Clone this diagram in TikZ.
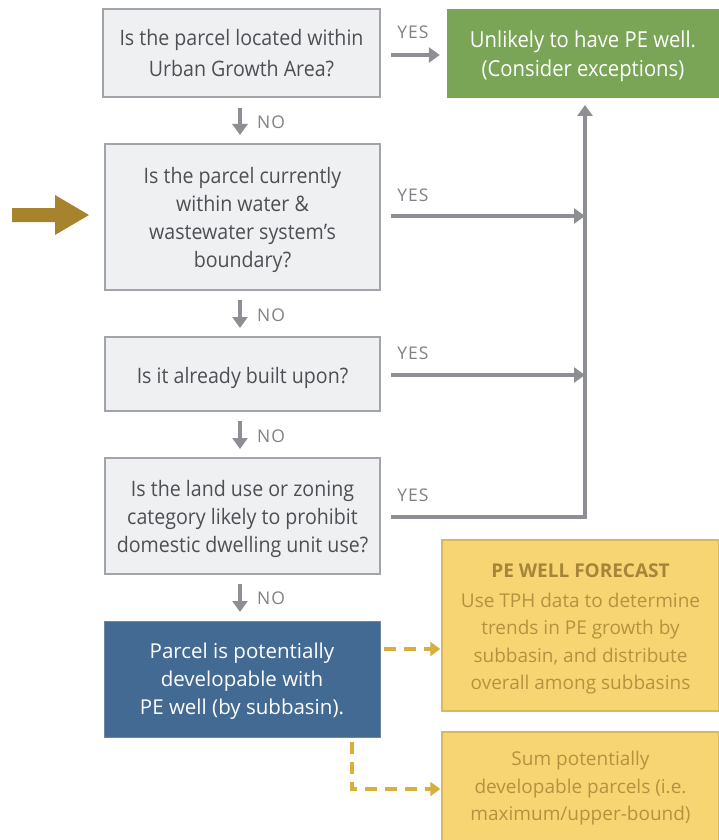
\documentclass[tikz,border=0pt]{standalone}
\usepackage{fontspec}
\setmainfont{Open Sans}
\newfontfamily\condfont[FakeStretch=0.92]{Open Sans}
\newfontfamily\lblfont[LetterSpace=6]{Open Sans}
\usetikzlibrary{arrows.meta}
\newcommand{\shtext}[2]{\raisebox{#1}[\height][\depth]{\begin{tabular}{@{}c@{}}#2\end{tabular}}}
\definecolor{qfill}{HTML}{EFF0F2}
\definecolor{qdraw}{HTML}{A3A4A9}
\definecolor{qtext}{HTML}{4E4F54}
\definecolor{garr}{HTML}{8E8F94}
\definecolor{lbltext}{HTML}{808186}
\definecolor{gfill}{HTML}{7AA556}
\definecolor{bfill}{HTML}{436A92}
\definecolor{yfill}{HTML}{F8D573}
\definecolor{ydraw}{HTML}{D9B85E}
\definecolor{ytext}{HTML}{B3933F}
\definecolor{ytitle}{HTML}{A5853A}
\definecolor{ydash}{HTML}{D9AE3E}
\definecolor{gold}{HTML}{A8832D}
\tikzset{
  qbox/.style={draw=qdraw, line width=1.3pt, fill=qfill, inner sep=0pt, text=qtext, align=center,
    font=\condfont\fontsize{21.3}{31}\selectfont},
  qtight/.style={qbox, font=\condfont\fontsize{21.3}{28}\selectfont},
  greenbox/.style={fill=gfill, inner sep=0pt, text=white, align=center,
    font=\condfont\fontsize{22}{29.5}\selectfont},
  bluebox/.style={fill=bfill, draw=bfill!80!white, line width=0.8pt, inner sep=0pt, text=white, align=center,
    font=\fontsize{20.5}{28}\selectfont},
  ybox/.style={fill=yfill, draw=ydraw, line width=1.5pt, inner sep=0pt, text=ytext, align=center,
    font=\fontsize{19}{27.5}\selectfont},
  conn/.style={draw=garr, line width=3.5pt, -{Triangle[length=11pt,width=15pt]}},
  dconn/.style={draw=ydash, line width=3.5pt, dash pattern=on 12pt off 8pt, -{Triangle[length=10pt,width=14pt]}},
  lbl/.style={text=lbltext, font=\lblfont\fontsize{17.5}{20}\selectfont, inner sep=0pt},
}
\begin{document}
\begin{tikzpicture}[x=1pt,y=-1pt]
\useasboundingbox (0,0) rectangle (719,840);
\begin{scope}
\clip (0,0) rectangle (719,840);
% boxes
\node[qbox, minimum width=277pt, minimum height=88pt] (q1) at (241.5,53) {Is the parcel located within\\Urban Growth Area?};
\node[greenbox, minimum width=272pt, minimum height=89pt] (g) at (583,53.5) {\shtext{-2.5pt}{Unlikely to have PE well.\\(Consider exceptions)}};
\node[qtight, minimum width=275pt, minimum height=146pt] (q2) at (242.5,217) {\shtext{-2.5pt}{Is the parcel currently\\within water \&\\wastewater system’s\\boundary?}};
\node[qbox, minimum width=275pt, minimum height=74pt] (q3) at (242.5,374) {\shtext{-3pt}{Is it already built upon?}};
\node[qtight, minimum width=275pt, minimum height=116pt] (q4) at (242.5,516) {\shtext{-2.5pt}{Is the land use or zoning\\category likely to prohibit\\domestic dwelling unit use?}};
\node[bluebox, minimum width=276pt, minimum height=116pt] (b) at (242,679) {\shtext{-2pt}{Parcel is potentially\\developable with\\PE well (by subbasin).}};
\node[ybox, minimum width=277pt, minimum height=171pt] (y1) at (580.5,625.5) {\shtext{-2.5pt}{{\bfseries\color{ytitle}PE WELL FORECAST}\\[2pt]Use TPH data to determine\\trends in PE growth by\\subbasin, and distribute\\overall among subbasins}};
\node[ybox, minimum width=277pt, minimum height=115pt] (y2) at (580.5,789.5) {};
\node[text=ytext, align=center, font=\fontsize{19}{27.5}\selectfont, inner sep=0pt] (y2t) at (580.5,788.5) {Sum potentially\\developable parcels (i.e.\\maximum/upper-bound)};
\end{scope}
% NO arrows
\coordinate (n1a) at (240,108); \coordinate (n1b) at (240,135);
\draw[conn] (n1a) -- (n1b);
\node[lbl, anchor=west] (no1) at (257,122) {NO};
\coordinate (n2a) at (240,300); \coordinate (n2b) at (240,328);
\draw[conn] (n2a) -- (n2b);
\node[lbl, anchor=west] (no2) at (257,315) {NO};
\coordinate (n3a) at (240,421); \coordinate (n3b) at (240,449);
\draw[conn] (n3a) -- (n3b);
\node[lbl, anchor=west] (no3) at (257,436) {NO};
\coordinate (n4a) at (240,584); \coordinate (n4b) at (240,612);
\draw[conn] (n4a) -- (n4b);
\node[lbl, anchor=west] (no4) at (257,598) {NO};
% YES arrows
\coordinate (v) at (585,0);
\draw[conn] ([xshift=10pt]q1.east |- 0,55) -- ([xshift=-7pt]g.west |- 0,55);
\node[lbl] (yes1) at (413,32) {YES};
\draw[conn] ([xshift=10pt]q2.east |- 0,216) -- (v |- 0,216);
\node[lbl] (yes2) at (413,195) {YES};
\draw[conn] ([xshift=10pt]q3.east |- 0,375) -- (v |- 0,375);
\node[lbl] (yes3) at (413,353) {YES};
\draw[conn] ([xshift=10pt]q4.east |- 0,517) -- (v |- 0,517) -- (v |- 0,105);
\node[lbl] (yes4) at (413,495) {YES};
% dashed yellow
\draw[dconn] ([xshift=4pt]b.east |- 0,649) -- ([xshift=-1pt]y1.west |- 0,649);
\draw[dconn] ([yshift=-5pt]b.south -| 352,0) -- (352,789) -- ([xshift=-1pt]y2.west |- 0,789);
% gold entry arrow
\fill[gold] (12,208) -- (55,208) -- (55,195) -- (89,215) -- (55,235) -- (55,222) -- (12,222) -- cycle;
\end{tikzpicture}
\end{document}
